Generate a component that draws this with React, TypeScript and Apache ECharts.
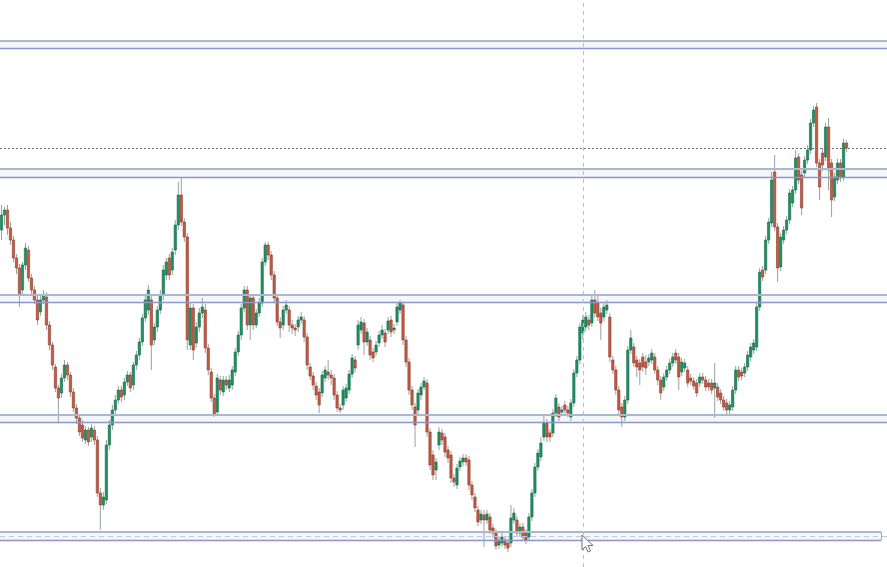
import React, { useEffect, useRef } from "react";
import * as echarts from "echarts";

// Price data (one entry per candle, oldest first)
const opens = [
  370,385,390,372,360,342,332,310,335,350,
  322,310,300,288,300,303,275,255,233,212,
  207,222,235,225,208,192,182,175,160,170,
  163,170,160,107,95,100,155,175,190,200,
  210,205,218,225,215,235,245,258,282,290,
  300,260,273,290,305,325,342,330,350,375,
  405,378,363,255,292,257,273,287,290,252,
  228,202,188,220,208,220,212,215,228,248,
  265,292,310,275,302,275,287,297,338,355,
  345,325,302,278,275,290,290,275,272,273,
  280,280,263,233,224,214,208,207,222,228,
  225,222,205,192,195,202,210,226,240,255,
  270,277,258,260,248,248,257,265,267,270,
  280,270,278,290,295,260,238,210,193,190,
  205,213,217,168,145,130,155,167,163,150,
  145,122,115,133,138,142,140,115,103,90,
  80,85,80,83,72,67,55,57,60,57,
  57,80,80,67,73,67,63,83,107,133,
  143,163,177,167,167,187,193,188,195,190,
  183,197,227,240,267,273,280,277,300,297,
  287,283,290,283,240,230,210,193,183,200,
  250,253,240,237,243,238,238,240,243,230,
  220,213,223,230,237,247,243,228,232,230,
  222,219,217,217,223,220,217,217,212,213,
  207,200,197,190,193,210,230,228,227,233,
  243,250,253,293,330,330,360,377,428,373,
  333,360,370,380,397,410,443,425,427,440,
  450,477,493,437,447,443,473,437,403,420,
  437,423,457,
];
const closes = [
  385,390,372,360,342,332,305,335,352,322,
  310,300,280,300,305,275,255,235,212,202,
  222,235,225,208,192,182,168,162,170,158,
  172,160,107,95,103,155,175,190,200,210,
  203,218,225,212,235,245,258,282,300,310,
  255,273,290,305,330,338,325,348,375,405,
  378,363,260,292,250,273,287,293,252,230,
  202,185,222,210,220,215,220,230,248,265,
  292,310,275,302,275,287,297,338,355,345,
  325,302,278,272,290,295,275,272,270,280,
  283,263,235,224,215,205,195,225,230,225,
  222,205,192,190,210,212,226,242,232,275,
  278,258,268,245,242,255,265,270,258,279,
  268,272,293,297,260,238,210,195,175,207,
  213,219,168,135,125,138,168,160,148,142,
  122,118,132,139,142,138,115,105,92,78,
  86,80,86,70,67,54,60,63,55,52,
  82,87,67,73,63,60,83,107,133,147,
  157,177,163,163,187,202,183,190,190,187,
  197,227,240,273,280,283,275,300,287,283,
  277,293,295,243,230,210,190,183,200,250,
  262,237,233,230,233,232,242,247,230,220,
  207,223,230,237,243,240,223,238,237,217,
  219,214,207,223,220,213,213,210,217,203,
  200,193,190,195,210,230,223,224,233,245,
  253,257,293,328,323,360,378,420,373,332,
  363,370,380,407,410,442,420,392,440,450,
  477,490,437,413,435,473,430,400,423,437,
  422,457,452,
];
const lows = [
  360,375,365,355,338,326,293,305,330,318,
  305,296,275,284,296,270,250,230,208,177,
  202,218,220,203,188,176,164,158,156,154,
  158,155,103,70,90,96,150,170,185,196,
  198,200,214,208,210,230,240,254,278,285,
  230,255,268,286,300,320,320,325,345,370,
  374,358,250,250,240,252,268,282,247,225,
  198,183,184,205,204,210,208,210,224,244,
  260,288,270,260,270,272,283,293,334,340,
  320,298,274,262,270,286,268,266,264,268,
  276,258,230,220,210,200,187,203,218,220,
  215,200,188,187,190,198,206,222,228,250,
  266,245,254,240,238,244,253,261,253,266,
  263,266,274,286,255,233,205,190,153,186,
  200,210,163,130,120,120,150,155,143,137,
  117,113,111,129,134,134,110,100,88,74,
  76,53,76,66,62,50,51,53,51,48,
  53,76,63,63,59,56,59,79,103,129,
  139,159,158,158,163,183,179,184,186,183,
  179,193,223,236,260,269,270,273,283,279,
  260,279,286,238,226,205,186,173,179,196,
  246,233,223,215,228,225,234,236,226,215,
  200,209,219,226,233,236,210,224,228,213,
  215,210,203,213,216,209,209,206,182,199,
  196,189,186,186,189,206,219,220,223,229,
  239,246,249,289,319,326,356,373,369,318,
  329,356,366,376,393,406,416,385,423,436,
  446,473,433,400,429,439,410,383,399,416,
  418,419,448,
];
const highs = [
  395,393,395,378,364,346,336,338,357,354,
  326,314,304,304,310,308,279,258,236,215,
  226,240,238,228,212,196,186,180,174,173,
  176,174,164,112,108,160,180,195,205,214,
  214,222,229,228,238,249,262,286,304,315,
  305,277,294,310,335,342,346,352,380,418,
  423,382,367,297,296,278,292,302,296,256,
  232,206,226,224,224,224,225,234,252,269,
  296,314,314,306,306,291,302,342,358,358,
  349,329,306,283,294,300,294,280,276,284,
  288,284,267,237,228,218,212,229,234,240,
  230,226,209,196,214,216,230,246,244,280,
  283,281,272,264,252,259,269,275,271,283,
  284,276,297,300,298,264,242,214,197,211,
  217,223,221,172,150,142,173,171,167,154,
  149,126,136,143,146,146,144,119,107,94,
  90,90,90,87,76,71,64,67,64,61,
  95,92,84,77,77,71,87,111,137,151,
  163,185,181,171,191,206,197,194,199,194,
  201,231,244,277,285,288,285,306,310,305,
  292,297,300,287,244,234,214,197,204,254,
  270,257,244,241,247,245,246,251,247,234,
  224,227,234,241,247,251,247,242,241,234,
  226,223,221,227,227,224,221,221,237,217,
  211,204,201,199,214,234,234,232,237,249,
  257,261,297,332,334,364,382,428,445,377,
  367,374,384,411,414,450,447,429,444,455,
  481,494,497,441,452,477,482,441,427,441,
  441,461,460,
];

// Horizontal support / resistance zones [upper, lower]
const zones: [number, number][] = [
  [559, 552],
  [431, 423],
  [305, 298],
  [185, 178],
];
const rangeBox: [number, number] = [68, 60];
const rangeBoxMid = 64;
const lastPrice = 452;
const crossSlot = 194;
const totalSlots = 296;
const rangeBoxEndSlot = 293.5;
const priceMin = 33;
const priceMax = 600;

const UP = "#1f8f63";
const UP_BORDER = "#146c4a";
const DOWN = "#c65a43";
const DOWN_BORDER = "#8a3a2a";
const WICK = "#98a29e";

export default function App() {
  const ref = useRef<HTMLDivElement>(null);

  useEffect(() => {
    document.body.style.margin = "0";
    if (!ref.current) return;
    const chart = echarts.init(ref.current, null, { renderer: "svg" });

    const rows = opens.map((o, i) => [i, o, closes[i], lows[i], highs[i]]);

    const markLines: any[] = [];
    zones.forEach(([top, bottom]) => {
      markLines.push({ yAxis: top, lineStyle: { color: "#a9b8cb", width: 2, type: "solid" } });
      markLines.push({ yAxis: bottom, lineStyle: { color: "#8d96c6", width: 1.3, type: "solid" } });
    });
    markLines.push([
      { coord: [-0.5, rangeBox[0]], lineStyle: { color: "#a9b8cb", width: 2, type: "solid" } },
      { coord: [rangeBoxEndSlot, rangeBox[0]] },
    ]);
    markLines.push([
      { coord: [-0.5, rangeBox[1]], lineStyle: { color: "#8d96c6", width: 1.3, type: "solid" } },
      { coord: [rangeBoxEndSlot, rangeBox[1]] },
    ]);
    markLines.push([
      { coord: [rangeBoxEndSlot, rangeBox[0]], lineStyle: { color: "#9aa4c4", width: 1, type: "solid" } },
      { coord: [rangeBoxEndSlot, rangeBox[1]] },
    ]);
    markLines.push([
      { coord: [-0.5, rangeBoxMid], lineStyle: { color: "#c4c9d3", width: 1, type: [5, 4] } },
      { coord: [totalSlots - 0.5, rangeBoxMid] },
    ]);
    markLines.push({ yAxis: lastPrice, lineStyle: { color: "#6d6d6d", width: 1, type: [2, 2] } });
    markLines.push({ xAxis: crossSlot, lineStyle: { color: "#bdbdbd", width: 1, type: [4, 4] } });

    const markAreas: any[] = zones.map(([top, bottom]) => [
      { yAxis: top },
      { yAxis: bottom },
    ]);
    markAreas.push([{ coord: [-0.5, rangeBox[0]] }, { coord: [rangeBoxEndSlot, rangeBox[1]] }]);

    chart.setOption({
      animation: false,
      backgroundColor: "#ffffff",
      grid: { left: 0, right: 0, top: 0, bottom: 0 },
      xAxis: {
        type: "value",
        min: -0.5,
        max: totalSlots - 0.5,
        show: false,
      },
      yAxis: {
        type: "value",
        min: priceMin,
        max: priceMax,
        show: false,
      },
      series: [
        {
          type: "custom",
          name: "Price",
          data: rows,
          encode: { x: 0, y: [1, 2, 3, 4] },
          z: 3,
          renderItem: (params: any, api: any) => {
            const i = api.value(0);
            const o = api.value(1);
            const c = api.value(2);
            const l = api.value(3);
            const h = api.value(4);
            const po = api.coord([i, o]);
            const pc = api.coord([i, c]);
            const pl = api.coord([i, l]);
            const ph = api.coord([i, h]);
            const w = api.size([1, 0])[0] * 0.78;
            const up = c >= o;
            const top = Math.min(po[1], pc[1]);
            const hgt = Math.max(Math.abs(po[1] - pc[1]), 1);
            return {
              type: "group",
              children: [
                {
                  type: "line",
                  shape: { x1: po[0], y1: ph[1], x2: po[0], y2: pl[1] },
                  style: { stroke: WICK, lineWidth: 1 },
                },
                {
                  type: "rect",
                  shape: { x: po[0] - w / 2, y: top, width: w, height: hgt },
                  style: {
                    fill: up ? UP : DOWN,
                    stroke: up ? UP_BORDER : DOWN_BORDER,
                    lineWidth: 0.6,
                  },
                },
              ],
            };
          },
          markArea: {
            silent: true,
            itemStyle: { color: "rgba(228,234,246,0.45)" },
            data: markAreas,
          },
          markLine: {
            silent: true,
            symbol: ["none", "none"],
            label: { show: false },
            data: markLines,
          },
        },
      ],
      graphic: [
        {
          type: "polygon",
          x: 582,
          y: 535,
          z: 100,
          shape: {
            points: [
              [0, 0], [0, 15], [3.5, 11.5], [6, 17], [8.5, 16], [6, 10.5], [11, 10.5],
            ],
          },
          style: { fill: "#ffffff", stroke: "#707070", lineWidth: 1 },
        },
      ],
    });

    return () => {
      chart.dispose();
    };
  }, []);

  return (
    <div
      ref={ref}
      style={{ position: "absolute", left: 0, top: 0, width: 887, height: 567 }}
    />
  );
}
